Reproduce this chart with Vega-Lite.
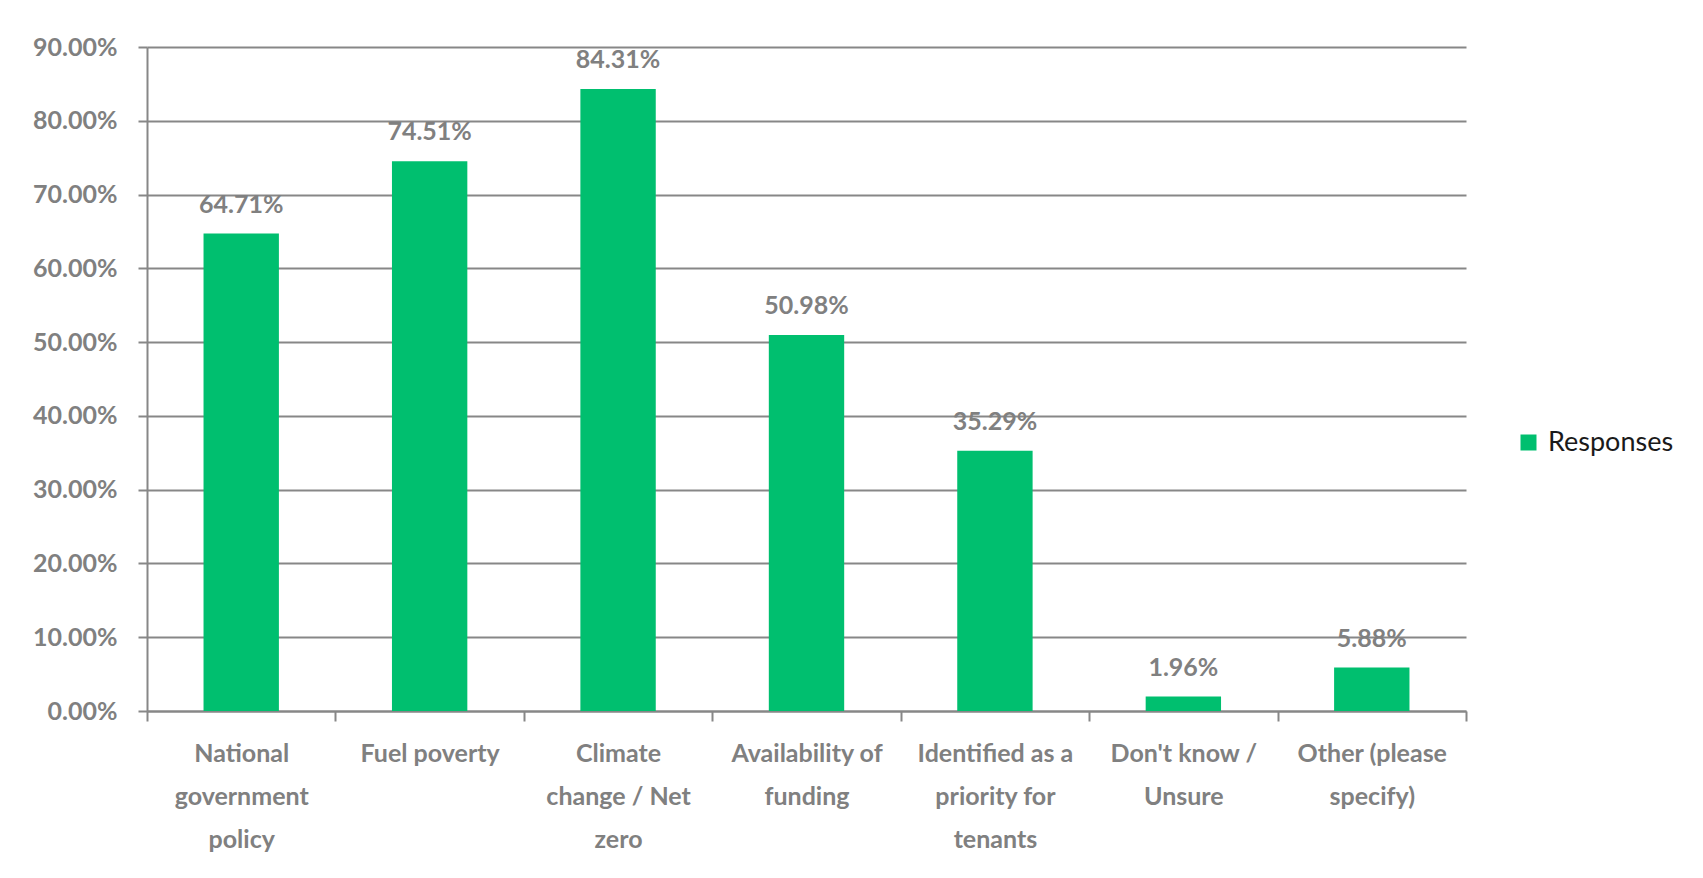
{
  "$schema": "https://vega.github.io/schema/vega-lite/v6.json",
  "autosize": {"type": "none"},
  "width": 1319,
  "height": 664,
  "padding": {"left": 147, "top": 47, "right": 237, "bottom": 167},
  "background": "white",
  "data": {
    "values": [
      {"category": "National government policy", "value": 0.6471},
      {"category": "Fuel poverty", "value": 0.7451},
      {"category": "Climate change / Net zero", "value": 0.8431},
      {"category": "Availability of funding", "value": 0.5098},
      {"category": "Identified as a priority for tenants", "value": 0.3529},
      {"category": "Don't know / Unsure", "value": 0.0196},
      {"category": "Other (please specify)", "value": 0.0588}
    ]
  },
  "encoding": {
    "x": {
      "field": "category",
      "type": "nominal",
      "sort": null,
      "scale": {"paddingInner": 0, "paddingOuter": 0},
      "axis": {
        "title": null,
        "labelAngle": 0,
        "tickBand": "extent",
        "domainColor": "#878787",
        "domainWidth": 2,
        "tickColor": "#878787",
        "tickWidth": 2,
        "tickSize": 10,
        "labelPadding": 20,
        "labelFont": "Lato",
        "labelFontWeight": "bold",
        "labelFontSize": 25,
        "labelColor": "#808080",
        "labelLineHeight": 43,
        "labelLimit": 400,
        "labelExpr": "{\"National government policy\":[\"National\",\"government\",\"policy\"],\"Fuel poverty\":[\"Fuel poverty\"],\"Climate change / Net zero\":[\"Climate\",\"change / Net\",\"zero\"],\"Availability of funding\":[\"Availability of\",\"funding\"],\"Identified as a priority for tenants\":[\"Identified as a\",\"priority for\",\"tenants\"],\"Don't know / Unsure\":[\"Don't know /\",\"Unsure\"],\"Other (please specify)\":[\"Other (please\",\"specify)\"]}[datum.value]"
      }
    }
  },
  "layer": [
    {
      "mark": {"type": "bar", "width": {"band": 0.4}},
      "encoding": {
        "y": {
          "field": "value",
          "type": "quantitative",
          "scale": {"domain": [0, 0.9], "nice": false},
          "axis": {
            "title": null,
            "values": [0, 0.1, 0.2, 0.3, 0.4, 0.5, 0.6, 0.7, 0.8, 0.9],
            "format": ".2%",
            "grid": true,
            "gridColor": "#878787",
            "gridWidth": 2,
            "domainColor": "#878787",
            "domainWidth": 2,
            "tickColor": "#878787",
            "tickWidth": 2,
            "tickSize": 9,
            "labelPadding": 21,
            "labelFont": "Lato",
            "labelFontWeight": "bold",
            "labelFontSize": 25,
            "labelColor": "#808080"
          }
        },
        "color": {
          "datum": "Responses",
          "type": "nominal",
          "scale": {"range": ["#00bf6f"]},
          "legend": {
            "title": null,
            "orient": "none",
            "legendX": 1368,
            "legendY": 382,
            "symbolType": "square",
            "symbolSize": 256,
            "symbolStrokeWidth": 0,
            "labelFont": "Lato",
            "labelFontSize": 27,
            "labelColor": "#1a1a1a",
            "labelOffset": 6
          }
        }
      }
    },
    {
      "mark": {
        "type": "text",
        "baseline": "alphabetic",
        "dy": -21,
        "font": "Lato",
        "fontWeight": "bold",
        "fontSize": 25,
        "color": "#808080"
      },
      "encoding": {
        "y": {"field": "value", "type": "quantitative"},
        "text": {"field": "value", "type": "quantitative", "format": ".2%"}
      }
    }
  ],
  "config": {"view": {"stroke": null}}
}
